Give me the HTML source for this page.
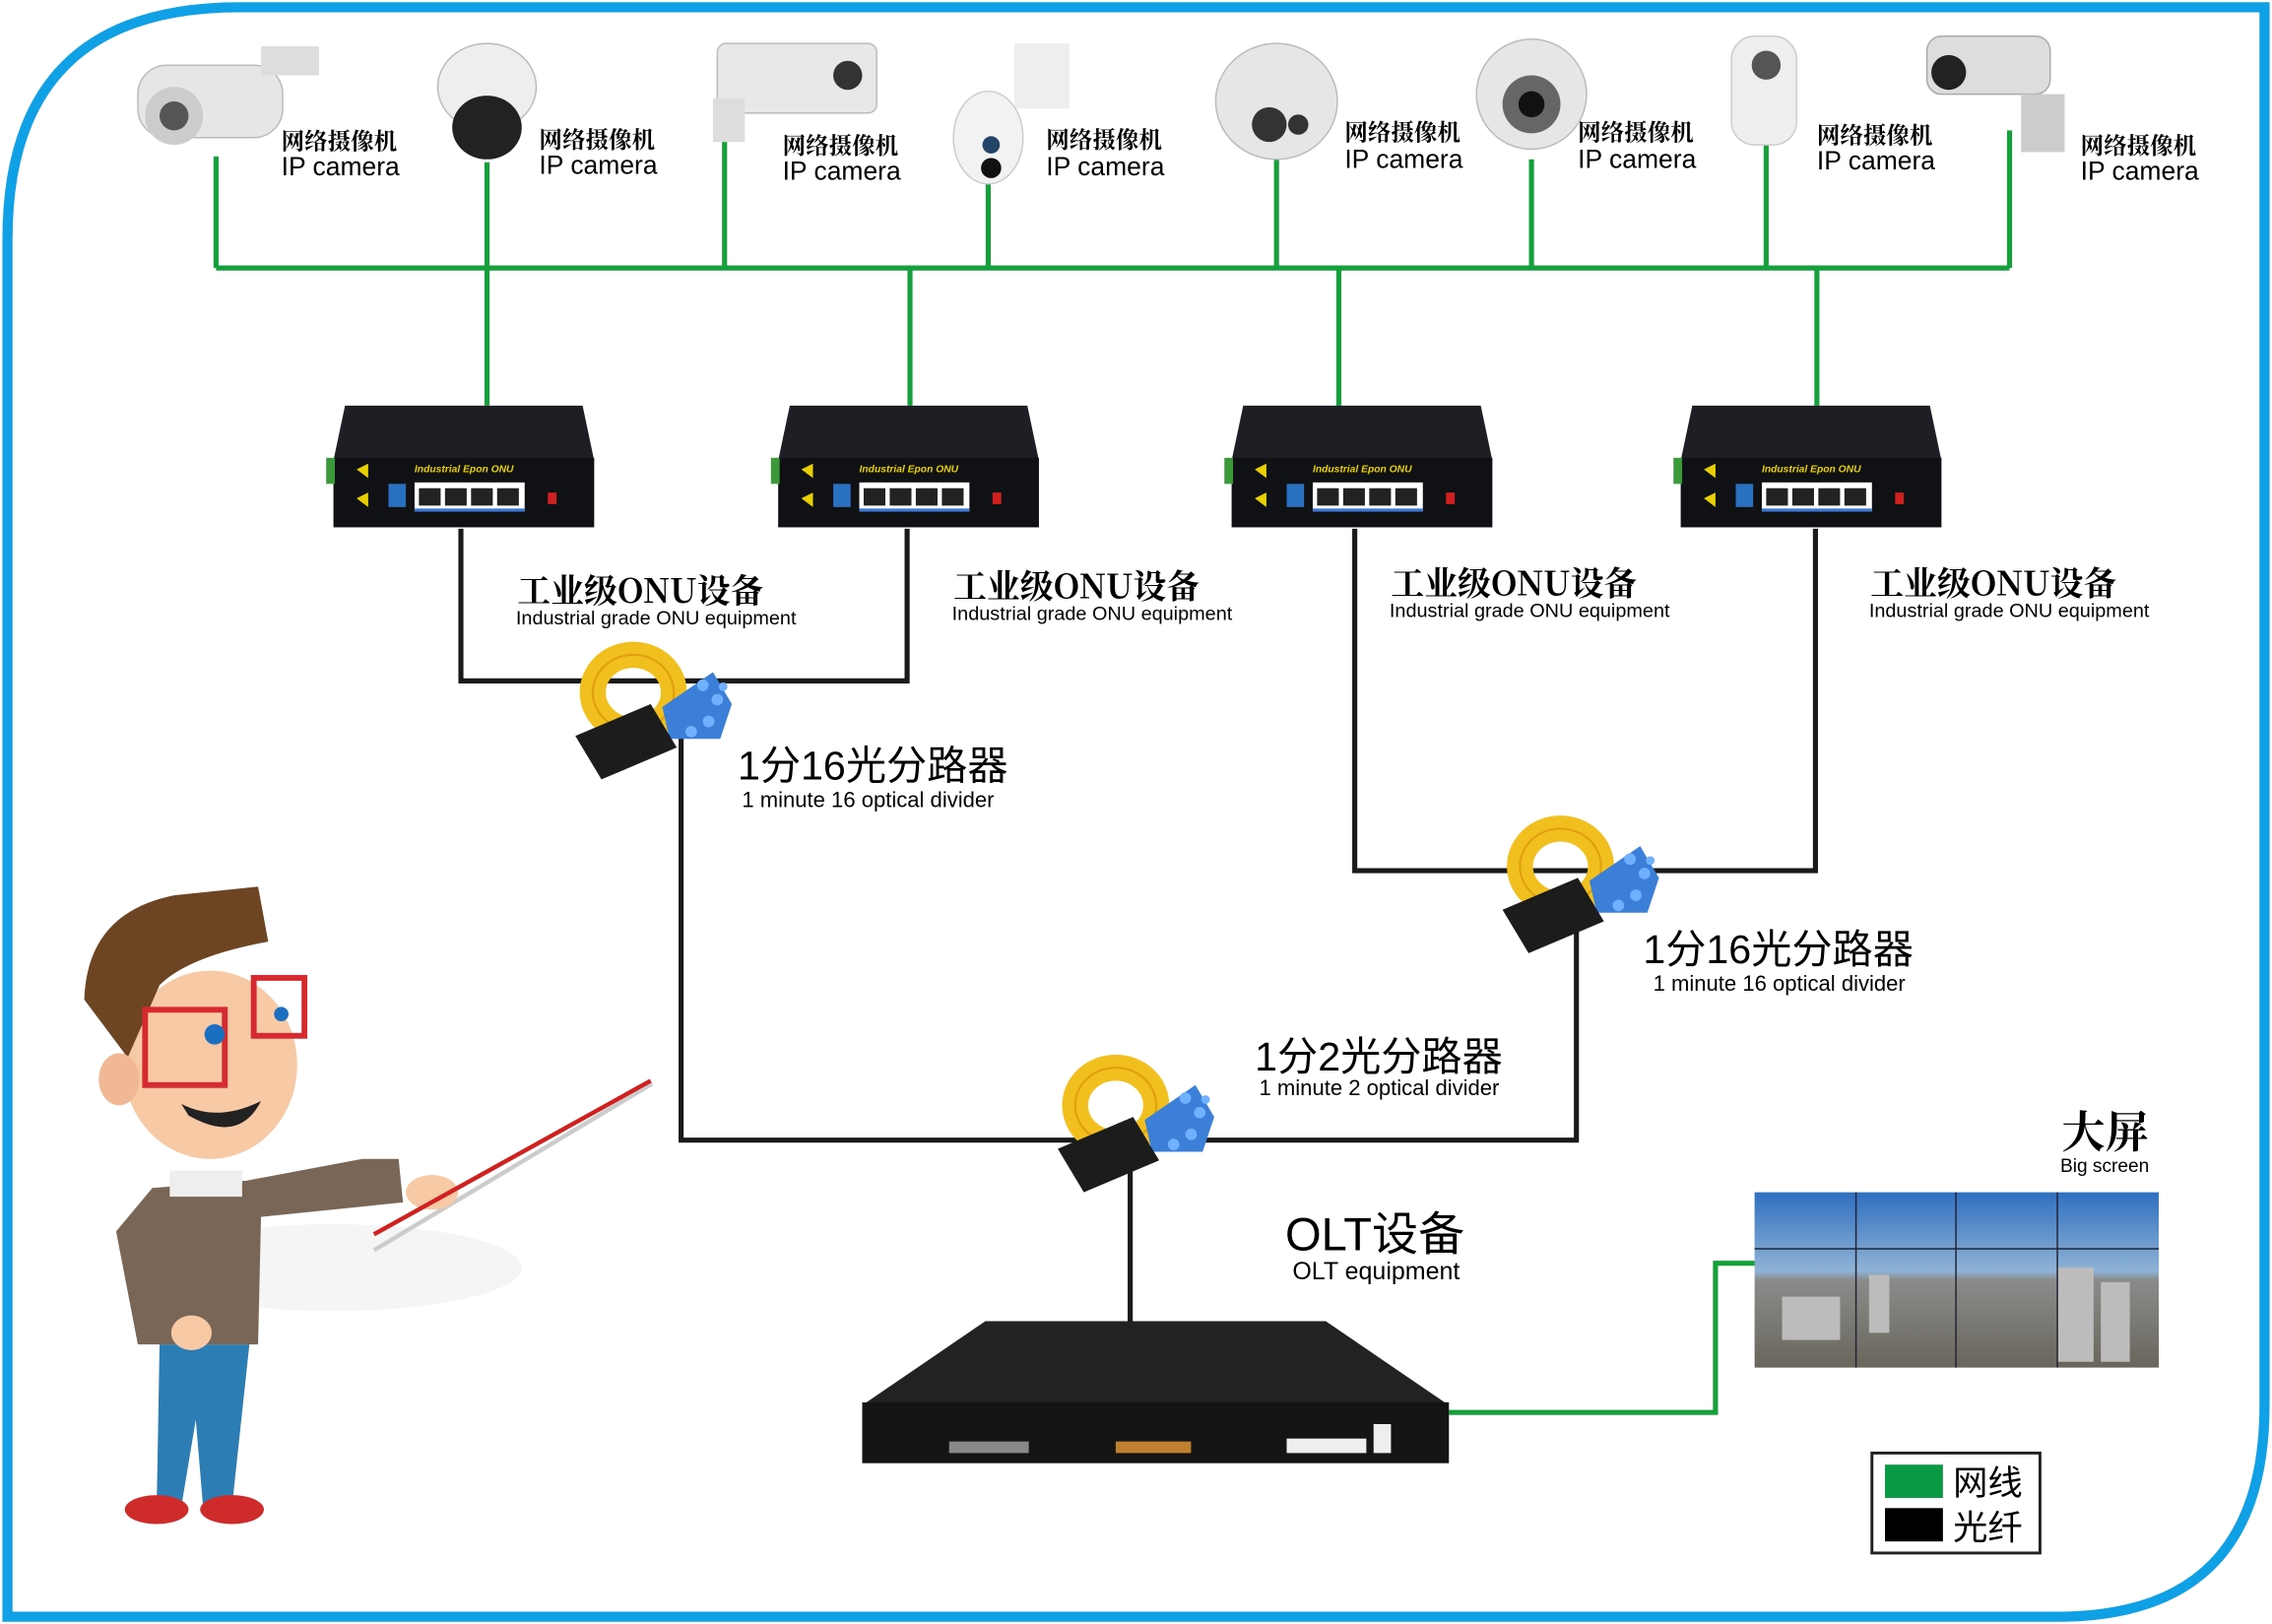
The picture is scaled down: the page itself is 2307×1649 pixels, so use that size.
<!DOCTYPE html>
<html><head><meta charset="utf-8"><style>
html,body{margin:0;padding:0;background:#fff;width:2307px;height:1649px;overflow:hidden}
text{font-family:"Liberation Sans","Noto Sans CJK SC",sans-serif}
.cn{font-family:"Noto Serif CJK SC","Liberation Serif",serif;font-weight:bold}
</style></head><body>
<svg width="2307" height="1649" viewBox="0 0 1568 1121" xmlns="http://www.w3.org/2000/svg">
<defs>
<g id="onu">
 <polygon points="0,38 8,0 172,0 180,38" fill="#1e1f24"/>
 <rect x="0" y="36" width="180" height="48" fill="#101114"/>
 <rect x="-5" y="36" width="6" height="18" fill="#3a9a3a"/>
 <polygon points="16,44 24,40 24,50" fill="#e8d000"/>
 <polygon points="16,64 24,60 24,70" fill="#e8d000"/>
 <text x="56" y="46" font-size="7" fill="#e8d000" font-style="italic" font-weight="bold">Industrial Epon ONU</text>
 <rect x="38" y="54" width="12" height="16" fill="#2a70c0"/>
 <rect x="56" y="53" width="76" height="20" fill="#fff"/>
 <rect x="59" y="57" width="15" height="12" fill="#222"/><rect x="77" y="57" width="15" height="12" fill="#222"/>
 <rect x="95" y="57" width="15" height="12" fill="#222"/><rect x="113" y="57" width="15" height="12" fill="#222"/>
 <rect x="56" y="71" width="76" height="2" fill="#3a7adf"/>
 <rect x="148" y="60" width="6" height="8" fill="#d02020"/>
</g>
<g id="spl">
 <ellipse cx="0" cy="0" rx="28" ry="26" fill="none" stroke="#f2c01e" stroke-width="18"/>
 <ellipse cx="0" cy="0" rx="28" ry="26" fill="none" stroke="#e0a010" stroke-width="1.5"/>
 <path d="M20,10 L55,-14 L68,8 L60,32 L25,32 Z" fill="#3b7fd8"/>
 <g fill="#6fb0ff"><circle cx="48" cy="-5" r="4"/><circle cx="58" cy="5" r="4"/><circle cx="52" cy="20" r="4"/><circle cx="40" cy="27" r="4"/><circle cx="62" cy="-4" r="3"/></g>
 <polygon points="-40,30 12,8 30,38 -22,60" fill="#1c1c1c"/>
</g>
</defs>
<path d="M5,1116 L5,165 Q5,5 165,5 L1563,5 L1563,970 Q1563,1116 1420,1116 Z" fill="none" stroke="#10a0e6" stroke-width="7"/>

<g stroke="#16a03c" stroke-width="3.5" fill="none">
 <path d="M149,185 H1387"/>
 <path d="M149,108 V185 M336,112 V280 M500,75 V185 M682,125 V185 M881,110 V185 M1057,110 V185 M1219,100 V185 M1387,90 V185"/>
 <path d="M628,185 V280 M924,185 V280 M1254,185 V280"/>
 <path d="M1000,975 H1184 V872 H1212"/>
</g>
<g stroke="#1a1a1a" stroke-width="3.5" fill="none">
 <path d="M318,365 V470 H626 V365"/>
 <path d="M470,470 V787 H1088 V615"/>
 <path d="M935,365 V601 H1253 V365"/>
 <path d="M780,787 V912"/>
</g>

<g>
 <rect x="95" y="45" width="100" height="50" rx="20" fill="#e6e6e6" stroke="#bbb"/><circle cx="120" cy="80" r="20" fill="#ccc"/><circle cx="120" cy="80" r="10" fill="#555"/>
 <rect x="180" y="32" width="40" height="20" fill="#ddd"/>
 <ellipse cx="336" cy="60" rx="34" ry="30" fill="#eee" stroke="#bbb"/><ellipse cx="336" cy="88" rx="24" ry="22" fill="#222"/>
 <rect x="495" y="30" width="110" height="48" rx="6" fill="#e8e8e8" stroke="#bbb"/><circle cx="585" cy="52" r="10" fill="#333"/><rect x="492" y="68" width="22" height="30" fill="#ddd"/>
 <rect x="700" y="30" width="38" height="45" fill="#eee"/><ellipse cx="682" cy="95" rx="24" ry="32" fill="#f2f2f2" stroke="#ccc"/><circle cx="684" cy="100" r="6" fill="#246"/><circle cx="684" cy="116" r="7" fill="#111"/>
 <ellipse cx="881" cy="70" rx="42" ry="40" fill="#e6e6e6" stroke="#bbb"/><circle cx="876" cy="86" r="12" fill="#333"/><circle cx="896" cy="86" r="7" fill="#333"/>
 <ellipse cx="1057" cy="65" rx="38" ry="38" fill="#e6e6e6" stroke="#bbb"/><circle cx="1057" cy="72" r="20" fill="#666"/><circle cx="1057" cy="72" r="9" fill="#111"/>
 <rect x="1195" y="25" width="45" height="75" rx="16" fill="#eee" stroke="#ccc"/><circle cx="1219" cy="45" r="10" fill="#555"/>
 <rect x="1330" y="25" width="85" height="40" rx="10" fill="#ddd" stroke="#aaa"/><circle cx="1345" cy="50" r="12" fill="#222"/><rect x="1395" y="65" width="30" height="40" fill="#ccc"/>
</g>
<g>
 <text x="194" y="103" class="cn" font-size="16">网络摄像机</text><text x="194" y="121" font-size="18">IP camera</text>
 <text x="372" y="102" class="cn" font-size="16">网络摄像机</text><text x="372" y="120" font-size="18">IP camera</text>
 <text x="540" y="106" class="cn" font-size="16">网络摄像机</text><text x="540" y="124" font-size="18">IP camera</text>
 <text x="722" y="102" class="cn" font-size="16">网络摄像机</text><text x="722" y="121" font-size="18">IP camera</text>
 <text x="928" y="97" class="cn" font-size="16">网络摄像机</text><text x="928" y="116" font-size="18">IP camera</text>
 <text x="1089" y="97" class="cn" font-size="16">网络摄像机</text><text x="1089" y="116" font-size="18">IP camera</text>
 <text x="1254" y="99" class="cn" font-size="16">网络摄像机</text><text x="1254" y="117" font-size="18">IP camera</text>
 <text x="1436" y="106" class="cn" font-size="16">网络摄像机</text><text x="1436" y="124" font-size="18">IP camera</text>
</g>

<use href="#onu" x="230" y="280"/><use href="#onu" x="537" y="280"/><use href="#onu" x="850" y="280"/><use href="#onu" x="1160" y="280"/>

<g>
 <text x="357" y="416" class="cn" font-size="23">工业级ONU设备</text><text x="356" y="431" font-size="13.5">Industrial grade ONU equipment</text>
 <text x="658" y="413" class="cn" font-size="23">工业级ONU设备</text><text x="657" y="428" font-size="13.5">Industrial grade ONU equipment</text>
 <text x="960" y="411" class="cn" font-size="23">工业级ONU设备</text><text x="959" y="426" font-size="13.5">Industrial grade ONU equipment</text>
 <text x="1291" y="411" class="cn" font-size="23">工业级ONU设备</text><text x="1290" y="426" font-size="13.5">Industrial grade ONU equipment</text>
</g>

<use href="#spl" x="437" y="478"/><use href="#spl" x="1077" y="598"/><use href="#spl" x="770" y="763"/>

<text x="509" y="538" font-size="28">1分16光分路器</text><text x="512" y="557" font-size="15">1 minute 16 optical divider</text>
<text x="1134" y="665" font-size="28">1分16光分路器</text><text x="1141" y="684" font-size="15">1 minute 16 optical divider</text>
<text x="866" y="739" font-size="28">1分2光分路器</text><text x="869" y="756" font-size="15">1 minute 2 optical divider</text>
<text x="887" y="863" font-size="32">OLT设备</text><text x="892" y="883" font-size="17">OLT equipment</text>
<text x="1423" y="792" class="cn" font-size="30">大屏</text><text x="1422" y="809" font-size="13">Big screen</text>

<polygon points="595,970 680,912 915,912 1000,970" fill="#222"/>
<rect x="595" y="968" width="405" height="42" fill="#141414"/>
<rect x="770" y="995" width="52" height="8" fill="#c08030"/>
<rect x="655" y="995" width="55" height="8" fill="#888"/>
<g fill="#eee"><rect x="888" y="993" width="55" height="10"/><rect x="948" y="983" width="12" height="20"/></g>

<defs><linearGradient id="sky" x1="0" y1="0" x2="0" y2="1"><stop offset="0" stop-color="#2f6fc0"/><stop offset="0.45" stop-color="#8fb3d6"/><stop offset="0.5" stop-color="#8a8c8a"/><stop offset="1" stop-color="#6a655c"/></linearGradient></defs>
<rect x="1211" y="823" width="279" height="121" fill="url(#sky)"/>
<g fill="#bcbcbc"><rect x="1290" y="880" width="14" height="40"/><rect x="1420" y="875" width="25" height="65"/><rect x="1450" y="885" width="20" height="55"/><rect x="1230" y="895" width="40" height="30"/></g>
<g stroke="#223" stroke-width="1"><path d="M1211,862 H1490 M1281,823 V944 M1350,823 V944 M1420,823 V944"/></g>

<rect x="1292" y="1003" width="116" height="69" fill="#fff" stroke="#222" stroke-width="2"/>
<rect x="1301" y="1011" width="40" height="23" fill="#0a9a44"/>
<rect x="1301" y="1041" width="40" height="23" fill="#000"/>
<text x="1348" y="1032" font-size="24">网线</text><text x="1348" y="1063" font-size="24">光纤</text>

<g>
 <ellipse cx="230" cy="875" rx="130" ry="30" fill="#f5f5f5"/>
 <line x1="258" y1="863" x2="450" y2="748" stroke="#ccc" stroke-width="3"/>
 <path d="M80,850 L105,820 L170,815 L250,800 L275,800 L278,830 L180,840 L178,928 L95,928 Z" fill="#7a6656"/>
 <rect x="117" y="808" width="50" height="18" fill="#eee"/>
 <path d="M110,928 L172,928 L160,1040 L140,1040 L135,980 L125,1040 L108,1040 Z" fill="#2d7db5"/>
 <ellipse cx="108" cy="1042" rx="22" ry="10" fill="#d02b2b"/><ellipse cx="160" cy="1042" rx="22" ry="10" fill="#d02b2b"/>
 <ellipse cx="145" cy="735" rx="60" ry="65" fill="#f7c9a4"/>
 <path d="M58,690 Q60,630 120,618 L178,612 L185,650 Q130,660 110,680 L88,730 Z" fill="#6e4523"/>
 <ellipse cx="82" cy="745" rx="14" ry="18" fill="#f0b894"/>
 <rect x="100" y="697" width="55" height="52" fill="none" stroke="#d62a30" stroke-width="4"/>
 <rect x="175" y="675" width="35" height="40" fill="none" stroke="#d62a30" stroke-width="4"/>
 <circle cx="148" cy="714" r="7" fill="#1a6fc0"/><circle cx="194" cy="700" r="5" fill="#1a6fc0"/>
 <path d="M125,762 Q150,775 180,760 Q165,790 130,770 Z" fill="#222"/>
 <ellipse cx="298" cy="823" rx="18" ry="12" fill="#f7c9a4"/>
 <line x1="258" y1="852" x2="449" y2="746" stroke="#d02020" stroke-width="3"/>
 <ellipse cx="132" cy="920" rx="14" ry="12" fill="#f7c9a4"/>
</g>
</svg>
</body></html>
